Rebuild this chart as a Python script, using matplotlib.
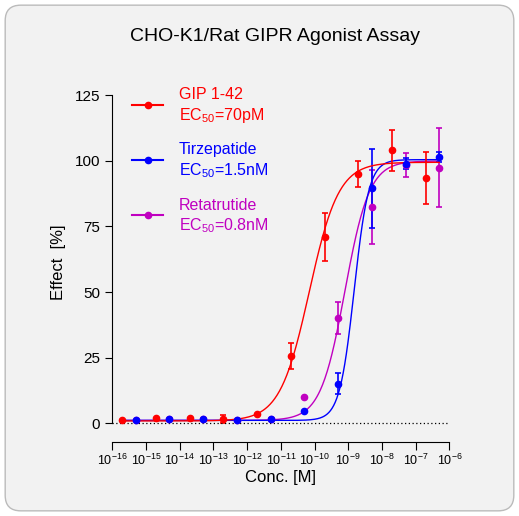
import numpy as np
import matplotlib.pyplot as plt
from matplotlib.patches import FancyBboxPatch

plt.rcParams['font.family'] = ['Liberation Sans', 'DejaVu Sans']
plt.rcParams['mathtext.fontset'] = 'custom'
plt.rcParams['mathtext.rm'] = 'Liberation Sans'

xr = 10**np.array([-15.7,-14.7,-13.7,-12.7,-11.7,-10.7,-9.7,-8.7,-7.7,-6.7])
xb = 10**np.array([-15.3,-14.3,-13.3,-12.3,-11.3,-10.3,-9.3,-8.3,-7.3,-6.3])
red = [1,2,2,1.5,3.5,25.5,71,95,104,93.5]
red_err = [0,0,0,1.5,0,5,9,5,8,10]
blue = [1,1.5,1.5,1,1.5,4.5,15,89.5,99,101.5]
blue_err = [0,0,0,0,0,0,4,15,2,2]
mag = [1,1.5,1.5,1,1.5,10,40,82.5,98.5,97.5]
mag_err = [0,0,0,0,0,0,6,14,4.5,15]
fits = [("GIP 1-42", "70pM", 7e-11, 1.0, 0.8, 99.5, 'red', xr, red, red_err),
        ("Tirzepatide", "1.5nM", 1.5e-9, 2.0, 1.0, 100.5, 'blue', xb, blue, blue_err),
        ("Retatrutide", "0.8nM", 8e-10, 1.2, 1.0, 100, '#c000c0', xb, mag, mag_err)]

fig = plt.figure(figsize=(5.19,5.16), dpi=100)
fig.patch.set_facecolor('white')
bg = FancyBboxPatch((0.01,0.01),0.98,0.98,boxstyle="round,pad=0,rounding_size=0.03",
    transform=fig.transFigure, facecolor='#f2f2f2', edgecolor='#bbbbbb', lw=1, zorder=-10)
fig.patches.append(bg)
ax = fig.add_axes([0.216, 0.17, 0.65, 0.645])
ax.set_facecolor('none')
xx = np.logspace(-15.7, -6.3, 400)
for i in [2,1,0]:
    name, ec, e50, h, b, t, c, x, y, err = fits[i]
    yy = b + (t-b)/(1+(e50/xx)**h)
    ax.plot(xx, yy, color=c, lw=1)
    ax.errorbar(x, y, yerr=err, fmt='o', color=c, ms=4.5, capsize=2, elinewidth=1.2, capthick=1.2)
ax.axhline(0, color='black', ls=(0,(1,2)), lw=0.9)
ax.set_xscale('log')
ax.set_xlim(1e-16, 1e-6)
ax.set_ylim(-2, 125)
ax.set_yticks([0,25,50,75,100,125])
for s in ['top','right']:
    ax.spines[s].set_visible(False)
ax.spines['bottom'].set_position(('outward', 10))
ax.spines['left'].set_bounds(0,125)
ax.set_xticks(10.0**np.arange(-16,-5))
ax.set_xticklabels([f'$10^{{{k}}}$' for k in range(-16,-5)], fontsize=9)
ax.tick_params(axis='x', which='major', length=6, pad=2)
ax.tick_params(axis='x', which='minor', length=3)
ax.tick_params(axis='y', labelsize=11, length=5)
ax.set_xlabel('Conc. [M]', fontsize=12, labelpad=1)
ax.set_ylabel('Effect  [%]', fontsize=12, labelpad=6)
fig.text(0.53, 0.93, 'CHO-K1/Rat GIPR Agonist Assay', ha='center', va='center', fontsize=14)
for j, i in enumerate([0,1,2]):
    name, ec, e50, h, b, t, c, *_ = fits[i]
    yt = 0.797 - j*0.107
    fig.lines.append(plt.Line2D([0.255,0.285,0.314],[yt,yt,yt], transform=fig.transFigure,
                                color=c, lw=1.5, marker='o', markevery=[1], ms=4.5))
    fig.text(0.345, yt+0.005, name, color=c, fontsize=11.5, va='bottom')
    fig.text(0.345, yt-0.002, f'EC$_{{50}}$={ec}', color=c, fontsize=11.5, va='top')
fig.savefig('out.png', dpi=100)
